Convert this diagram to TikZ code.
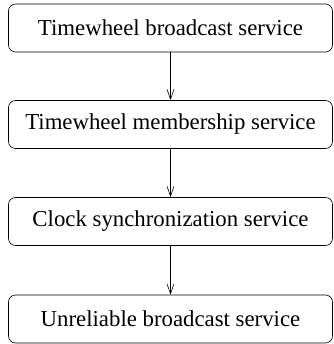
\documentclass[tikz,border=0pt]{standalone}
\usepackage{fontspec}
\setmainfont{Liberation Serif}
\usetikzlibrary{arrows.meta}
\tikzstyle{service}=[draw, rounded corners=7pt, minimum width=324pt, minimum height=48pt,
                     inner sep=0, font=\fontsize{22.8}{27}\selectfont, line width=0.6pt]
\tikzstyle{uses}=[-{Straight Barb[length=10pt, width=7pt, line width=0.6pt]}, line width=0.6pt]
\begin{document}
\begin{tikzpicture}[x=1pt, y=1pt]
        \useasboundingbox (0, 0) rectangle (333, -344);
        \node[service] (TB) at (170.5, -28) {Timewheel broadcast service};
        \node[service] (TM) at (170.5, -124.5) {Timewheel membership service};
        \node[service] (CS) at (170.5, -221.5) {Clock synchronization service};
        \node[service] (UB) at (170.5, -319) {Unreliable broadcast service};
        \draw[uses] (TB) -- (TM);
        \draw[uses] (TM) -- (CS);
        \draw[uses] (CS) -- (UB);
    \end{tikzpicture}
\end{document}
